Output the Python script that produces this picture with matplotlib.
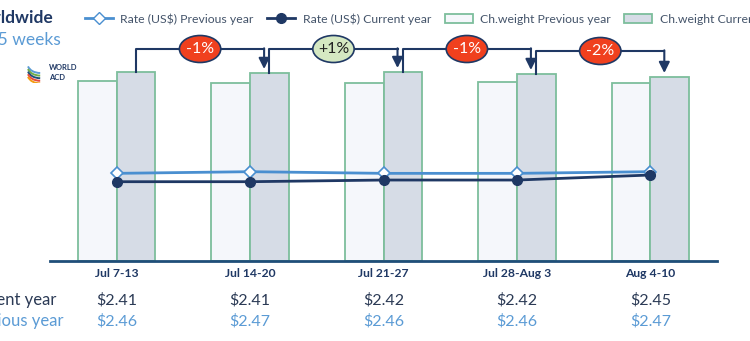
import numpy as np
import matplotlib
matplotlib.use("Agg")
import matplotlib.pyplot as plt
from matplotlib.lines import Line2D
from matplotlib.patches import Patch, Ellipse, Arc
import matplotlib.transforms as mtransforms

plt.rcParams["font.family"] = ["Lato", "DejaVu Sans"]

# data
weeks = ["Jul 7-13", "Jul 14-20", "Jul 21-27", "Jul 28-Aug 3", "Aug 4-10"]
rate_cur = [2.41, 2.41, 2.42, 2.42, 2.45]
rate_prev = [2.46, 2.47, 2.46, 2.46, 2.47]
weight_prev = [180, 178, 178, 179, 178]   # chargeable weight index (approx.)
weight_cur = [189, 188, 189, 187, 184]
changes = ["-1%", "+1%", "-1%", "-2%"]

navy = "#1F3864"
lblue = "#4A8FD0"
green_edge = "#7DBE9C"
prev_fill = "#F5F7FB"
cur_fill = "#D6DCE6"

fig = plt.figure(figsize=(7.5, 3.41), dpi=100)
ax = fig.add_axes([50 / 750, 80 / 341, 667 / 750, 201 / 341])
x = np.arange(len(weeks))
w = 0.29

ax.bar(x - w / 2, weight_prev, w, color=prev_fill, edgecolor=green_edge, linewidth=1.3)
ax.bar(x + w / 2, weight_cur, w, color=cur_fill, edgecolor=green_edge, linewidth=1.3)
ax.set_xlim(-0.5, 4.5)
ax.set_ylim(0, 201)

for s in ["top", "left", "right"]:
    ax.spines[s].set_visible(False)
ax.spines["bottom"].set_color("#1F4E79")
ax.spines["bottom"].set_linewidth(2)
ax.set_yticks([])
ax.set_xticks(x)
ax.set_xticklabels(weeks, fontweight="bold", color=navy, fontsize=8.7)
ax.tick_params(axis="x", length=0, pad=5)

# rates on secondary axis
ax2 = ax.twinx()
ax2.set_ylim(1.935, 3.139)
ax2.axis("off")
ax2.plot(x, rate_prev, color=lblue, lw=2, marker="D", ms=6,
         mfc="white", mec=lblue, mew=1.2, zorder=3)
ax2.plot(x, rate_cur, color=navy, lw=2, marker="o", ms=7,
         mfc=navy, mec=navy, zorder=3)

# week-on-week brackets
for i, lab in enumerate(changes):
    x0 = x[i] + w / 2
    x1 = x[i + 1] + w / 2 - 0.04
    yb = max(weight_cur[i], weight_cur[i + 1]) + 23
    ax.plot([x0, x0, x1], [weight_cur[i], yb, yb], color=navy, lw=1.5,
            clip_on=False, zorder=4)
    ax.annotate("", xy=(x1, weight_cur[i + 1] + 4), xytext=(x1, yb + 0.7),
                arrowprops=dict(arrowstyle="-|>", color=navy, lw=1.5,
                                mutation_scale=16, shrinkA=0, shrinkB=0),
                annotation_clip=False, zorder=4)
    xm = (x0 + x1) / 2
    pos = lab.startswith("+")
    ax.add_patch(Ellipse((xm, yb), 0.31, 27, facecolor="#D5E8C2" if pos else "#F0401E",
                         edgecolor=navy, lw=1.2, clip_on=False, zorder=5))
    ax.text(xm, yb, lab, ha="center", va="center", fontsize=11.5,
            color="#222222" if pos else "white", zorder=6, clip_on=False)

# value rows under the chart
trans = mtransforms.blended_transform_factory(ax.transData, fig.transFigure)
for i in range(len(weeks)):
    ax.text(x[i], 1 - 300 / 341, f"${rate_cur[i]:.2f}", transform=trans,
            ha="center", va="center", fontsize=11.5, color="#2B3A55")
    ax.text(x[i], 1 - 321 / 341, f"${rate_prev[i]:.2f}", transform=trans,
            ha="center", va="center", fontsize=11.5, color="#5B9BD5")
fig.text(56 / 750, 1 - 300 / 341, "Current year", ha="right", va="center",
         fontsize=12, color="#2B3A55")
fig.text(63 / 750, 1 - 321 / 341, "Previous year", ha="right", va="center",
         fontsize=12, color="#5B9BD5")

# title area
fig.text(54 / 750, 1 - 18 / 341, "Worldwide", ha="right", va="center",
         fontsize=12.5, fontweight="bold", color=navy)
fig.text(61 / 750, 1 - 40 / 341, "Last 5 weeks", ha="right", va="center",
         fontsize=12.5, color="#5B9BD5")

# small logo
lax = fig.add_axes([24 / 750, 1 - 83 / 341, 18 / 750, 20 / 341])
lax.set_xlim(0, 1)
lax.set_ylim(0, 1)
lax.axis("off")
for k, c in enumerate(["#5B9BD5", "#70AD47", "#1F4E79", "#E74C3C", "#F39C12"]):
    lax.add_patch(Arc((0.9, 0.95 - k * 0.13), 1.4, 0.9, theta1=190, theta2=270,
                      color=c, lw=1.4))
fig.text(49 / 750, 1 - 67 / 341, "WORLD", fontsize=5.5, fontweight="bold",
         color=navy, va="center")
fig.text(49 / 750, 1 - 77 / 341, "ACD", fontsize=5.5, fontweight="bold",
         color=navy, va="center")

# legend
handles = [
    Line2D([], [], color=lblue, lw=2, marker="D", ms=6, mfc="white", mec=lblue),
    Line2D([], [], color=navy, lw=2, marker="o", ms=7, mfc=navy),
    Patch(facecolor=prev_fill, edgecolor=green_edge, lw=1.3),
    Patch(facecolor=cur_fill, edgecolor=green_edge, lw=1.3),
]
labels = ["Rate (US$) Previous year", "Rate (US$) Current year",
          "Ch.weight Previous year", "Ch.weight Current year"]
fig.legend(handles, labels, loc="center left", bbox_to_anchor=(74 / 750, 1 - 19 / 341),
           ncol=4, frameon=False, fontsize=8.8, handlelength=2.3,
           columnspacing=1.1, handletextpad=0.6, labelcolor="#44546A")

fig.savefig("out.png", dpi=100)
